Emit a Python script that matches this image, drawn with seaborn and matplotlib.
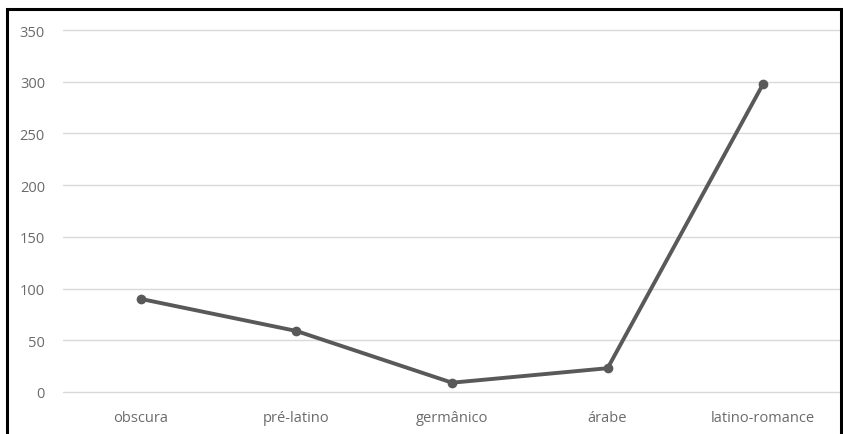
import matplotlib
matplotlib.use('Agg')
import matplotlib.pyplot as plt
import seaborn as sns
import pandas as pd

# Chart data
categories = ['obscura', 'pré-latino', 'germânico', 'árabe', 'latino-romance']
values = [90, 59, 9, 23, 298]
yticks = [0, 50, 100, 150, 200, 250, 300, 350]

df = pd.DataFrame({'origem': categories, 'total': values})

sns.set_style('white')
plt.rcParams['font.family'] = ['Open Sans', 'DejaVu Sans']

fig = plt.figure(figsize=(8.43, 4.35), dpi=100)
ax = fig.add_axes([63 / 843, 42 / 435, 778 / 843, 362 / 435])

sns.lineplot(data=df, x='origem', y='total', sort=False, color='#595959',
             linewidth=2.8, marker='o', markersize=7, markeredgewidth=0, ax=ax)

ax.set_xlim(-0.5, len(categories) - 0.5)
ax.set_ylim(0, 350)
ax.set_yticks(yticks)
ax.yaxis.grid(True, color='#d9d9d9', linewidth=1)
for gl in ax.get_ygridlines():
    gl.set_clip_on(False)
ax.set_axisbelow(True)
for s in ax.spines.values():
    s.set_visible(False)
ax.set_xlabel('')
ax.set_ylabel('')
ax.tick_params(axis='y', length=0, pad=13, labelsize=10.5, labelcolor='#6b6b6b')
ax.tick_params(axis='x', length=0, pad=13, labelsize=10.5, labelcolor='#6b6b6b')

# black frame around the picture (bottom edge cut off)
frame = plt.Rectangle((7 / 843, -0.1), 834 / 843, 1.1 - 10 / 435, transform=fig.transFigure,
                      fill=False, edgecolor='black', linewidth=2.2)
fig.add_artist(frame)

fig.savefig('out.png', dpi=100)
